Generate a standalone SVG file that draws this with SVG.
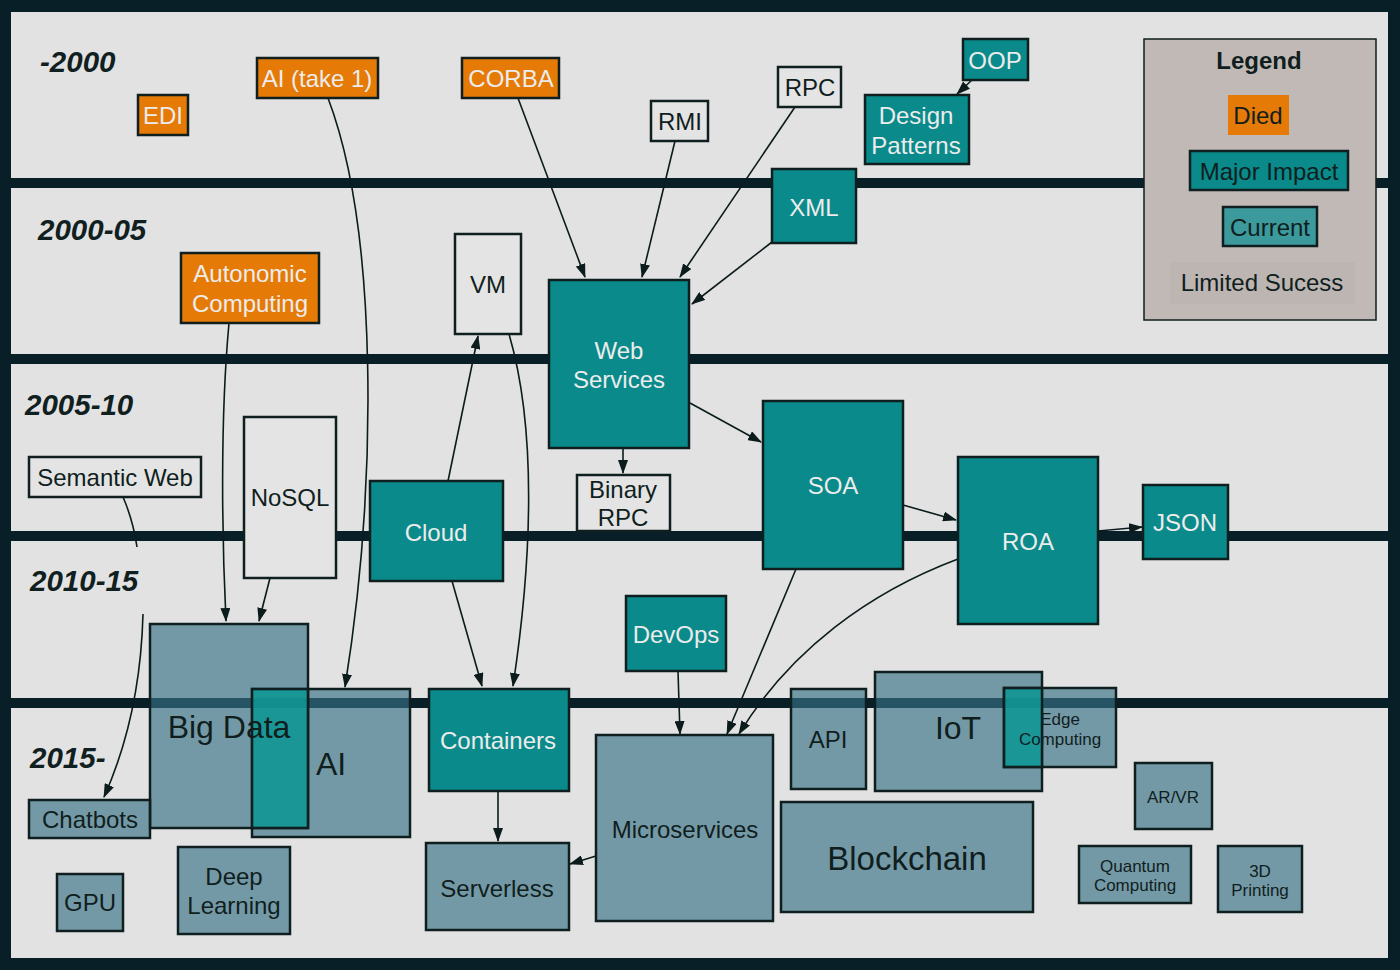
<svg xmlns="http://www.w3.org/2000/svg" width="1400" height="970" viewBox="0 0 1400 970">
<defs>
<marker id="arr" viewBox="0 0 14 10" refX="13" refY="5" markerWidth="14" markerHeight="10" markerUnits="userSpaceOnUse" orient="auto">
<path d="M0,0 L14,5 L0,10 z" fill="#0c1c1c"/>
</marker>
<style>
.t{font-family:"Liberation Sans",Arial,sans-serif;text-anchor:middle}
.lt{fill:#ececec}
.dk{fill:#101e1e}
.per{font-family:"Liberation Sans",Arial,sans-serif;font-weight:bold;font-style:italic;font-size:29.5px;fill:#102020}
.box{stroke:#0f1e1e;stroke-width:2.5}
.died{fill:#e67a06}
.major{fill:#0a8a8a}
.cur{fill:#397286;fill-opacity:0.65}
.lim{fill:#e4e4e4}
.ovl{fill:#04a098;fill-opacity:0.7;stroke:#0f1e1e;stroke-width:2.5}
.band{fill:#081f28}
.con{fill:none;stroke:#0c1c1c;stroke-width:1.6;marker-end:url(#arr)}
</style>
</defs>
<rect x="0" y="0" width="1400" height="970" fill="#081f28"/>
<rect x="11" y="12" width="1377" height="946" fill="#e2e2e2"/>
<g id="bands">
<rect class="band" x="11" y="178" width="1377" height="10"/>
<rect class="band" x="11" y="354" width="1377" height="10"/>
<rect class="band" x="11" y="531" width="1377" height="10"/>
<rect class="band" x="11" y="698" width="1377" height="10"/>
</g>
<g id="periods">
<text class="per" x="40" y="72">-2000</text>
<text class="per" x="38" y="240">2000-05</text>
<text class="per" x="25" y="415">2005-10</text>
<text class="per" x="30" y="591">2010-15</text>
<text class="per" x="30" y="768">2015-</text>
</g>
<g id="legend">
<rect x="1144" y="39" width="232" height="281" fill="#c1b9b6" stroke="#0f1e1e" stroke-width="1.5"/>
<text class="t dk" x="1259" y="69" font-size="24" font-weight="bold">Legend</text>
<rect class="died" x="1228" y="95" width="61" height="40"/>
<text class="t dk" x="1258" y="124" font-size="24">Died</text>
<rect class="box major" x="1190" y="151" width="158" height="39"/>
<text class="t dk" x="1269" y="180" font-size="24">Major Impact</text>
<rect class="box" x="1223" y="207" width="94" height="39" fill="#3c9a9c"/>
<text class="t dk" x="1270" y="236" font-size="24">Current</text>
<rect x="1170" y="262" width="185" height="42" fill="#bdb5b2"/>
<text class="t dk" x="1262" y="291" font-size="24">Limited Sucess</text>
</g>
<g id="connectors">
<path class="con" d="M328 98 C 378 230, 378 480, 345 687"/>
<path class="con" d="M518 98 L585 277"/>
<path class="con" d="M675 141 L642 277"/>
<path class="con" d="M795 107 L680 277"/>
<path class="con" d="M772 242 L692 304"/>
<path class="con" d="M972 80 L957 94"/>
<path class="con" d="M229 323 C 220 420, 222 540, 226 621"/>
<path class="con" d="M270 578 L259 621"/>
<path class="con" d="M123 497 Q 133 520 137 547 M143 614 C 141 690, 125 750, 104 797"/>
<path class="con" d="M509 334 C 537 430, 532 560, 513 686"/>
<path class="con" d="M448 481 L478 336"/>
<path class="con" d="M452 581 L482 686"/>
<path class="con" d="M623 448 L623 473"/>
<path class="con" d="M690 403 L761 442"/>
<path class="con" d="M903 505 L956 520"/>
<path class="con" d="M1098 531 L1142 527"/>
<path class="con" d="M796 569 L727 734"/>
<path class="con" d="M958 559 C 870 592, 790 650, 739 734"/>
<path class="con" d="M678 671 L680 734"/>
<path class="con" d="M498 791 L498 841"/>
<path class="con" d="M596 856 L570 864"/>
</g>
<g id="edi"><rect class="box died" x="138" y="95" width="50" height="40"/><text class="t lt" x="163" y="124" font-size="24">EDI</text></g>
<g id="ai-take1"><rect class="box died" x="257" y="58" width="121" height="40"/><text class="t lt" x="317" y="87" font-size="24">AI (take 1)</text></g>
<g id="corba"><rect class="box died" x="462" y="58" width="97" height="40"/><text class="t lt" x="511" y="87" font-size="24">CORBA</text></g>
<g id="rmi"><rect class="box lim" x="651" y="101" width="57" height="40"/><text class="t dk" x="680" y="130" font-size="24">RMI</text></g>
<g id="rpc"><rect class="box lim" x="778" y="67" width="63" height="40"/><text class="t dk" x="810" y="96" font-size="24">RPC</text></g>
<g id="oop"><rect class="box major" x="963" y="39" width="65" height="41"/><text class="t lt" x="995" y="69" font-size="24">OOP</text></g>
<g id="design-patterns"><rect class="box major" x="865" y="95" width="104" height="69"/><text class="t lt" x="916" y="124" font-size="24">Design</text><text class="t lt" x="916" y="154" font-size="24">Patterns</text></g>
<g id="xml"><rect class="box major" x="772" y="169" width="84" height="74"/><text class="t lt" x="814" y="216" font-size="24">XML</text></g>
<g id="autonomic"><rect class="box died" x="181" y="253" width="138" height="70"/><text class="t lt" x="250" y="282" font-size="24">Autonomic</text><text class="t lt" x="250" y="312" font-size="24">Computing</text></g>
<g id="vm"><rect class="box lim" x="455" y="234" width="66" height="100"/><text class="t dk" x="488" y="293" font-size="24">VM</text></g>
<g id="web-services"><rect class="box major" x="549" y="280" width="140" height="168"/><text class="t lt" x="619" y="359" font-size="24">Web</text><text class="t lt" x="619" y="388" font-size="24">Services</text></g>
<g id="semantic-web"><rect class="box lim" x="29" y="457" width="172" height="40"/><text class="t dk" x="115" y="486" font-size="24">Semantic Web</text></g>
<g id="nosql"><rect class="box lim" x="244" y="417" width="92" height="161"/><text class="t dk" x="290" y="506" font-size="24">NoSQL</text></g>
<g id="cloud"><rect class="box major" x="370" y="481" width="133" height="100"/><text class="t lt" x="436" y="541" font-size="24">Cloud</text></g>
<g id="binary-rpc"><rect class="box lim" x="577" y="475" width="93" height="56"/><text class="t dk" x="623" y="498" font-size="24">Binary</text><text class="t dk" x="623" y="526" font-size="24">RPC</text></g>
<g id="soa"><rect class="box major" x="763" y="401" width="140" height="168"/><text class="t lt" x="833" y="494" font-size="24">SOA</text></g>
<g id="roa"><rect class="box major" x="958" y="457" width="140" height="167"/><text class="t lt" x="1028" y="550" font-size="24">ROA</text></g>
<g id="json"><rect class="box major" x="1143" y="485" width="85" height="74"/><text class="t lt" x="1185" y="531" font-size="24">JSON</text></g>
<g id="devops"><rect class="box major" x="626" y="596" width="100" height="75"/><text class="t lt" x="676" y="643" font-size="24">DevOps</text></g>
<g id="ai"><rect class="box cur" x="252" y="689" width="158" height="148"/><text class="t dk" x="331" y="775" font-size="32">AI</text></g>
<g id="big-data"><rect class="box cur" x="150" y="624" width="158" height="204"/><rect class="ovl" x="252" y="689" width="56" height="139"/><text class="t dk" x="229" y="738" font-size="32">Big Data</text></g>
<g id="containers"><rect class="box major" x="429" y="689" width="140" height="102"/><text class="t lt" x="498" y="749" font-size="24">Containers</text></g>
<g id="microservices"><rect class="box cur" x="596" y="735" width="177" height="186"/><text class="t dk" x="685" y="838" font-size="24">Microservices</text></g>
<g id="serverless"><rect class="box cur" x="426" y="843" width="143" height="87"/><text class="t dk" x="497" y="897" font-size="24">Serverless</text></g>
<g id="api"><rect class="box cur" x="791" y="689" width="75" height="100"/><text class="t dk" x="828" y="748" font-size="24">API</text></g>
<g id="iot"><rect class="box cur" x="875" y="672" width="167" height="119"/><text class="t dk" x="958" y="739" font-size="32">IoT</text></g>
<g id="edge-computing"><rect class="box cur" x="1004" y="688" width="112" height="79"/><rect class="ovl" x="1004" y="688" width="38" height="79"/><text class="t dk" x="1060" y="725" font-size="17">Edge</text><text class="t dk" x="1060" y="745" font-size="17">Computing</text></g>
<g id="ar-vr"><rect class="box cur" x="1135" y="763" width="77" height="66"/><text class="t dk" x="1173" y="803" font-size="17">AR/VR</text></g>
<g id="quantum"><rect class="box cur" x="1079" y="846" width="112" height="57"/><text class="t dk" x="1135" y="872" font-size="17">Quantum</text><text class="t dk" x="1135" y="891" font-size="17">Computing</text></g>
<g id="printing3d"><rect class="box cur" x="1218" y="846" width="84" height="66"/><text class="t dk" x="1260" y="877" font-size="17">3D</text><text class="t dk" x="1260" y="896" font-size="17">Printing</text></g>
<g id="blockchain"><rect class="box cur" x="781" y="802" width="252" height="110"/><text class="t dk" x="907" y="870" font-size="33">Blockchain</text></g>
<g id="chatbots"><rect class="box cur" x="29" y="800" width="121" height="38"/><text class="t dk" x="90" y="828" font-size="24">Chatbots</text></g>
<g id="gpu"><rect class="box cur" x="57" y="874" width="66" height="57"/><text class="t dk" x="90" y="911" font-size="24">GPU</text></g>
<g id="deep-learning"><rect class="box cur" x="178" y="847" width="112" height="87"/><text class="t dk" x="234" y="885" font-size="24">Deep</text><text class="t dk" x="234" y="914" font-size="24">Learning</text></g>
</svg>
